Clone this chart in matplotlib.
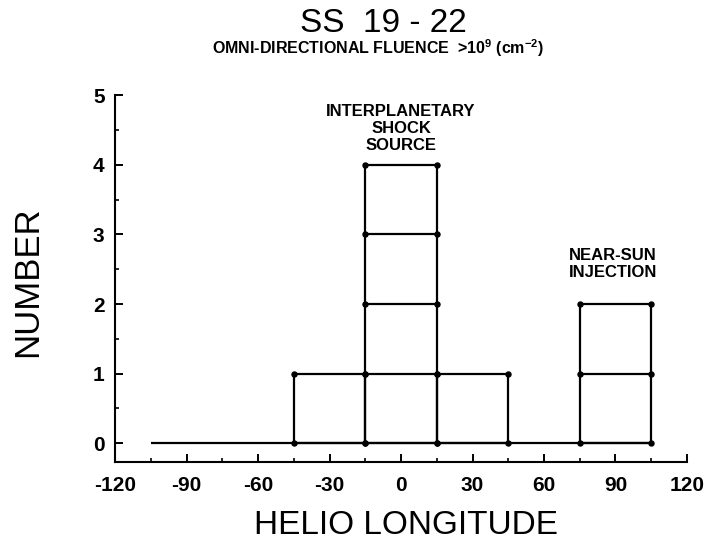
import matplotlib
matplotlib.use("Agg")
import matplotlib.pyplot as plt
from matplotlib.ticker import MultipleLocator

plt.rcParams['font.family'] = ['Liberation Sans', 'DejaVu Sans']
plt.rcParams['mathtext.fontset'] = 'custom'
plt.rcParams['mathtext.rm'] = 'Liberation Sans'
plt.rcParams['mathtext.bf'] = 'Liberation Sans:bold'

# Data
bin_centers = [-90, -60, -30, 0, 30, 60, 90]
counts = [0, 0, 1, 4, 1, 0, 2]
bin_width = 30
x_ticks = [-120, -90, -60, -30, 0, 30, 60, 90, 120]
y_ticks = [0, 1, 2, 3, 4, 5]

fig = plt.figure(figsize=(7.1, 5.41), dpi=100)
ax = fig.add_axes([0.162, 0.146, 0.8056, 0.678])

lw = 1.6
ms = 3.6
col = 'black'

# baseline
left_edge = bin_centers[0] - bin_width / 2
right_edge = bin_centers[-1] + bin_width / 2
ax.plot([left_edge, right_edge], [0, 0], color=col, lw=lw, solid_capstyle='butt')

for c, n in zip(bin_centers, counts):
    if n <= 0:
        continue
    x0, x1 = c - bin_width / 2, c + bin_width / 2
    ax.plot([x0, x0], [0, n], color=col, lw=lw)
    ax.plot([x1, x1], [0, n], color=col, lw=lw)
    for k in range(0, n + 1):
        ax.plot([x0, x1], [k, k], color=col, lw=lw, marker='o', ms=ms)

ax.set_xlim(-120, 120)
ax.set_ylim(-0.27, 5)
ax.spines['top'].set_visible(False)
ax.spines['right'].set_visible(False)
ax.spines['left'].set_linewidth(1.5)
ax.spines['bottom'].set_linewidth(1.5)

ax.set_xticks(x_ticks)
ax.set_xticklabels([str(t) for t in x_ticks])
ax.set_yticks(y_ticks)
ax.xaxis.set_minor_locator(MultipleLocator(15))
ax.yaxis.set_minor_locator(MultipleLocator(0.5))
ax.tick_params(axis='both', which='major', direction='in', length=5.5, width=1.4,
               labelsize=15)
ax.tick_params(axis='both', which='minor', direction='in', length=2.8, width=1.2)
ax.tick_params(axis='y', which='major', pad=7.5)
ax.tick_params(axis='x', which='major', pad=10)
for lab in ax.get_xticklabels() + ax.get_yticklabels():
    lab.set_fontweight('bold')

fig.text(406 / 710, 1 - 534 / 541, 'HELIO LONGITUDE', fontsize=24,
         ha='center', va='baseline')
fig.text(28 / 710, 1 - 282 / 541, 'NUMBER', fontsize=25, rotation=90,
         ha='center', va='center')

fig.text(383 / 710, 1 - 32 / 541, 'SS  19 - 22', fontsize=24, ha='center', va='baseline')
fig.text(378 / 710, 1 - 54 / 541,
         r'OMNI-DIRECTIONAL FLUENCE  >10$^{\mathbf{9}}$ (cm$^{\mathbf{-2}}$)',
         fontsize=11.5, ha='center', va='baseline', fontweight='bold')

ax.text(0, 4.17, 'INTERPLANETARY\nSHOCK\nSOURCE', fontsize=12, fontweight='bold',
        ha='center', va='bottom', linespacing=1.15)
ax.text(89, 2.35, 'NEAR-SUN\nINJECTION', fontsize=12, fontweight='bold',
        ha='center', va='bottom', linespacing=1.15)

fig.savefig('out.png', dpi=100)
